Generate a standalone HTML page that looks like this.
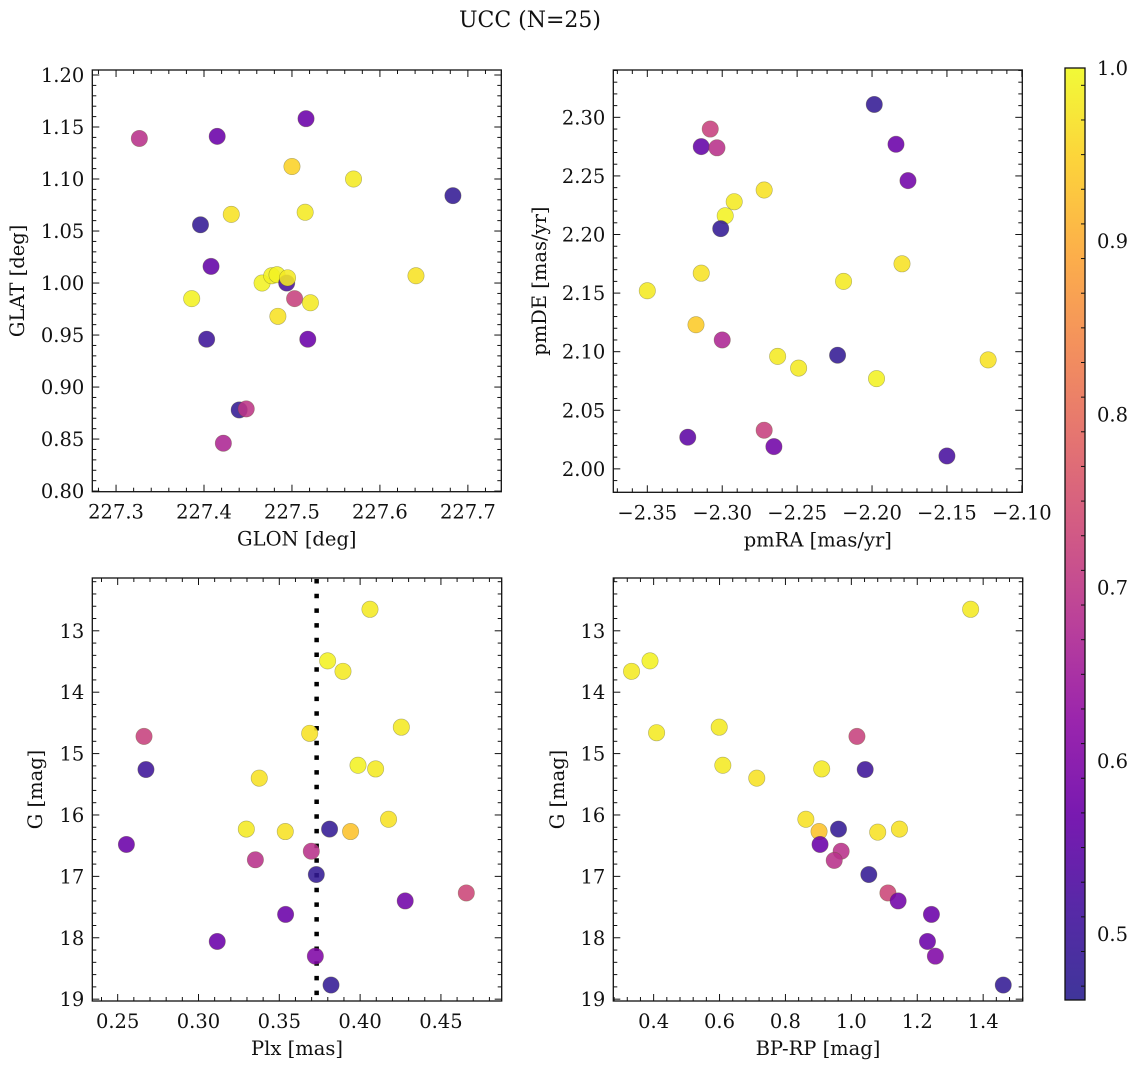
<!DOCTYPE html>
<html><head><meta charset="utf-8">
<style>
html,body{margin:0;padding:0;background:#fff;}
svg text{font-family:"DejaVu Serif","Liberation Serif",serif;fill:#111;}
</style></head>
<body>
<svg id="fig" width="1136" height="1068" viewBox="0 0 1136 1068" xmlns="http://www.w3.org/2000/svg">
<text x="530" y="27" text-anchor="middle" font-size="22">UCC (N=25)</text>
</svg>
<script>
// ---- Panel 1: GLON vs GLAT ----
const glon1=[227.3265,227.415,227.516,227.500,227.570,227.683,227.431,227.515,227.396,227.408,227.386,227.466,227.477,227.483,227.494,227.495,227.503,227.521,227.641,227.484,227.403,227.518,227.440,227.448,227.422];
const glat1=[1.139,1.141,1.158,1.112,1.100,1.084,1.066,1.068,1.056,1.016,0.985,1.000,1.007,1.008,1.000,1.005,0.985,0.981,1.007,0.968,0.946,0.946,0.878,0.879,0.846];
const prob1=[0.69,0.57,0.57,0.95,0.98,0.48,0.97,0.98,0.48,0.56,0.99,0.99,0.99,0.99,0.52,0.98,0.72,0.98,0.97,0.97,0.50,0.57,0.48,0.70,0.67];
// ---- Panel 2: pmRA vs pmDE ----
const pmra2=[-2.1985,-2.308,-2.314,-2.3035,-2.184,-2.176,-2.272,-2.292,-2.298,-2.301,-2.314,-2.350,-2.219,-2.180,-2.3175,-2.300,-2.263,-2.223,-2.249,-2.197,-2.1225,-2.272,-2.323,-2.2655,-2.150];
const pmde2=[2.311,2.290,2.275,2.274,2.277,2.246,2.238,2.228,2.216,2.205,2.167,2.152,2.160,2.175,2.123,2.110,2.096,2.097,2.086,2.077,2.093,2.033,2.027,2.019,2.011];
const prob2=[0.48,0.72,0.56,0.69,0.57,0.58,0.97,0.98,0.99,0.48,0.97,0.98,0.98,0.97,0.94,0.67,0.98,0.48,0.98,0.99,0.97,0.72,0.55,0.58,0.52];
// ---- Panel 3: Plx vs G ----
const plx3=[0.4061,0.3799,0.3894,0.4255,0.3688,0.2663,0.2675,0.3376,0.3987,0.4096,0.4176,0.3296,0.3537,0.3811,0.3941,0.2554,0.3698,0.3352,0.3729,0.4657,0.4279,0.3539,0.3116,0.3723,0.3820];
const g3=[12.65,13.49,13.66,14.57,14.67,14.72,15.26,15.40,15.19,15.25,16.07,16.23,16.27,16.23,16.27,16.48,16.59,16.73,16.97,17.27,17.40,17.62,18.06,18.30,18.77];
const prob3=[0.98,0.99,0.98,0.98,0.97,0.72,0.50,0.97,0.99,0.98,0.97,0.98,0.97,0.48,0.93,0.57,0.69,0.69,0.48,0.73,0.58,0.57,0.57,0.60,0.48];
const plxLine=0.3731;
// ---- Panel 4: BP-RP vs G ----
const bprp4=[1.362,0.333,0.389,0.409,0.599,1.017,0.610,0.910,1.042,0.713,0.862,0.902,0.961,1.080,1.146,0.905,0.969,0.948,1.053,1.111,1.142,1.243,1.231,1.255,1.461];
const g4=[12.65,13.66,13.49,14.66,14.57,14.72,15.19,15.25,15.26,15.40,16.07,16.27,16.23,16.28,16.23,16.48,16.59,16.74,16.97,17.27,17.40,17.62,18.06,18.30,18.77];
const prob4=[0.98,0.98,0.99,0.98,0.98,0.72,0.98,0.98,0.50,0.97,0.97,0.93,0.48,0.97,0.97,0.57,0.69,0.69,0.48,0.73,0.58,0.57,0.57,0.60,0.48];
// ---- colorbar ----
const cbTicks=[0.5,0.6,0.7,0.8,0.9,1.0];
const cMin=0.462, cMax=1.0;

const NS="http://www.w3.org/2000/svg";
const svg=document.getElementById('fig');
function mk(tag,attrs,parent){const e=document.createElementNS(NS,tag);for(const k in attrs)e.setAttribute(k,attrs[k]);(parent||svg).appendChild(e);return e;}
const plasma=["#2a1f8f","#45119d","#6a00a8","#8f0da4","#b12a90","#cc4778","#e16462","#f2844b","#fca636","#fcce25","#f0f921"];
function hex(h){return [parseInt(h.substr(1,2),16),parseInt(h.substr(3,2),16),parseInt(h.substr(5,2),16)];}
function cmap(v){let t=(v-cMin)/(cMax-cMin);t=Math.max(0,Math.min(1,t));const s=t*10,i=Math.min(9,Math.floor(s)),f=s-i;const a=hex(plasma[i]),b=hex(plasma[i+1]);return 'rgb('+a.map((x,j)=>Math.round(x+(b[j]-x)*f)).join(',')+')';}

function fmt(v,d){let s=Math.abs(v).toFixed(d);return (v<0?'\u2212':'')+s;}

function panel(o){
  const {x0,x1,y0,y1,xmin,xmax,ymin,ymax,invertY}=o;
  const sx=v=>x0+(v-xmin)/(xmax-xmin)*(x1-x0);
  const sy=v=>invertY? y0+(v-ymin)/(ymax-ymin)*(y1-y0) : y1-(v-ymin)/(ymax-ymin)*(y1-y0);
  const g=mk('g',{});
  
  
  const tg=mk('g',{stroke:'#111','stroke-width':1},g);
  for(let k=-200;k<=200;k++){
    const v=o.xt0+k*o.xstep/5; if(v<xmin-1e-9||v>xmax+1e-9)continue;
    const X=sx(v), major=(k%5===0), L=major?7:4;
    mk('line',{x1:X,y1:y1,x2:X,y2:y1-L},tg);mk('line',{x1:X,y1:y0,x2:X,y2:y0+L},tg);
    if(major){const t=mk('text',{x:X,y:y1+27,'text-anchor':'middle','font-size':19.5,stroke:'none'},g);t.textContent=fmt(v,o.xd);
      }
  }
  for(let k=-200;k<=200;k++){
    const v=o.yt0+k*o.ystep/5; if(v<Math.min(ymin,ymax)-1e-9||v>Math.max(ymin,ymax)+1e-9)continue;
    const Y=sy(v), major=(k%5===0), L=major?7:4;
    mk('line',{x1:x0,y1:Y,x2:x0+L,y2:Y},tg);mk('line',{x1:x1,y1:Y,x2:x1-L,y2:Y},tg);
    if(major){const t=mk('text',{x:x0-8,y:Y+7,'text-anchor':'end','font-size':19.5,stroke:'none'},g);t.textContent=fmt(v,o.yd);
      }
  }
  if(o.vline!==undefined){const l=mk('line',{x1:sx(o.vline),x2:sx(o.vline),y1:y0+1,y2:y1-1,stroke:'#000','stroke-width':4.5,'stroke-dasharray':'4.5 10.2'},g);
    }
  for(let i=0;i<o.xs.length;i++){
    const c=mk('circle',{cx:sx(o.xs[i]),cy:sy(o.ys[i]),r:8.2,fill:cmap(o.cs[i]),'fill-opacity':0.88,stroke:'rgba(90,90,40,0.45)','stroke-width':0.6},g);
    
    
  }
  const b=mk('rect',{x:x0,y:y0,width:x1-x0,height:y1-y0,fill:'none',stroke:'#111','stroke-width':1.3},g);
  
  const xl=mk('text',{x:(x0+x1)/2,y:y1+54,'text-anchor':'middle','font-size':19.5},g);xl.textContent=o.xlabel;
  
  const yl=mk('text',{x:0,y:0,'text-anchor':'middle','font-size':19.5,transform:'translate('+o.ylx+','+((y0+y1)/2)+') rotate(-90)'},g);yl.textContent=o.ylabel;
  
}

panel({name:'glon-glat-panel',x0:92.3,x1:501.3,y0:70,y1:491.7,xmin:227.273,xmax:227.738,ymin:0.7994,ymax:1.2048,
  xt0:227.3,xstep:0.1,xd:1,yt0:0.8,ystep:0.05,yd:2,xs:glon1,ys:glat1,cs:prob1,xlabel:'GLON [deg]',ylabel:'GLAT [deg]',ylx:24});
panel({name:'pm-panel',x0:613.3,x1:1022.3,y0:70,y1:492.3,xmin:-2.3727,xmax:-2.0997,ymin:1.980,ymax:2.3404,
  xt0:-2.35,xstep:0.05,xd:2,yt0:2.0,ystep:0.05,yd:2,xs:pmra2,ys:pmde2,cs:prob2,xlabel:'pmRA [mas/yr]',ylabel:'pmDE [mas/yr]',ylx:546});
panel({name:'plx-g-panel',x0:92.3,x1:501.7,y0:578,y1:1001,xmin:0.2343,xmax:0.4876,ymin:12.14,ymax:19.03,invertY:true,
  xt0:0.25,xstep:0.05,xd:2,yt0:13,ystep:1,yd:0,xs:plx3,ys:g3,cs:prob3,vline:plxLine,xlabel:'Plx [mas]',ylabel:'G [mag]',ylx:42});
panel({name:'cmd-panel',x0:613.3,x1:1022.7,y0:578,y1:1001,xmin:0.2776,xmax:1.520,ymin:12.14,ymax:19.03,invertY:true,
  xt0:0.4,xstep:0.2,xd:1,yt0:13,ystep:1,yd:0,xs:bprp4,ys:g4,cs:prob4,xlabel:'BP-RP [mag]',ylabel:'G [mag]',ylx:564});

// colorbar
(function(){
  const cx0=1065,cx1=1085,cy0=68,cy1=1000;
  const defs=mk('defs',{});
  const lg=mk('linearGradient',{id:'plasmaGrad',x1:0,y1:1,x2:0,y2:0},defs);
  for(let i=0;i<=20;i++){const v=cMin+(cMax-cMin)*i/20;mk('stop',{offset:(i/20),'stop-color':cmap(v),'stop-opacity':0.9},lg);}
  const r=mk('rect',{x:cx0,y:cy0,width:cx1-cx0,height:cy1-cy0,fill:'url(#plasmaGrad)',stroke:'#111','stroke-width':1.3});
  
  const sy=v=>cy1-(v-cMin)/(cMax-cMin)*(cy1-cy0);
  for(let k=0;k<=60;k++){const v=0.45+k*0.02; if(v<cMin||v>cMax+1e-9)continue;
    const Y=sy(v), major=Math.abs(v*10-Math.round(v*10))<1e-6, L=major?7:4;
    mk('line',{x1:cx1,x2:cx1-L,y1:Y,y2:Y,stroke:'#111','stroke-width':1});}
  cbTicks.forEach(v=>{const t=mk('text',{x:cx1+12,y:sy(v)+7,'font-size':19.5});t.textContent=v.toFixed(1);
    });
})();
</script>
</body></html>
